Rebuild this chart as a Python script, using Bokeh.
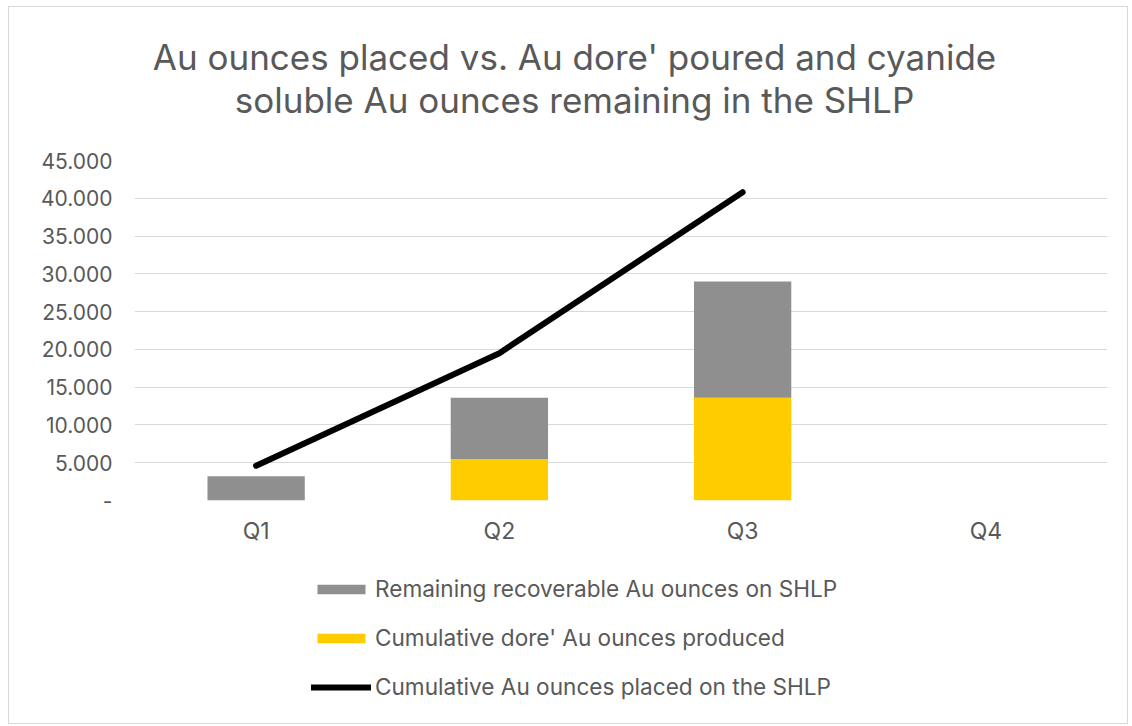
from bokeh.plotting import figure
from bokeh.layouts import column
from bokeh.models import (ColumnDataSource, FactorRange, Range1d, Legend, LegendItem,
                          Label, CustomJSTickFormatter, SingleIntervalTicker)
from bokeh.embed import file_html
from bokeh.resources import INLINE

quarters = ["Q1", "Q2", "Q3", "Q4"]
dore_produced = [0, 5500, 13600, 0]
remaining = [3200, 8100, 15400, 0]
placed_quarters = ["Q1", "Q2", "Q3"]
placed = [4600, 19500, 40800]

title_line1 = "Au ounces placed vs. Au dore' poured and cyanide"
title_line2 = "soluble Au ounces remaining in the SHLP"
label_remaining = "Remaining recoverable Au ounces on SHLP"
label_dore = "Cumulative dore' Au ounces produced"
label_placed = "Cumulative Au ounces placed on the SHLP"

TEXT = "#595959"
GREY = "#8f8f8f"
YELLOW = "#ffcc00"
FONT = "Inter"
W = 1118
BL = 125          # left border (frame start)
FW = 973          # frame width
BR = W - BL - FW  # right border

# ---- title strip ----
TH = 140
pt = figure(width=W, height=TH, x_range=Range1d(BL, BL + FW), y_range=Range1d(0, TH),
            output_backend="svg", toolbar_location=None,
            min_border_left=BL, min_border_right=BR, min_border_top=0, min_border_bottom=0,
            x_axis_location=None, y_axis_location=None)
pt.grid.visible = False
pt.outline_line_color = None
for txt, yy in ((title_line1, TH - 49), (title_line2, TH - 92)):
    pt.add_layout(Label(x=565, y=yy, text=txt, text_align="center",
                        text_baseline="middle", text_font_size="35px",
                        text_font=FONT, text_color=TEXT))

# ---- main chart ----
src = ColumnDataSource(dict(q=quarters, dore=dore_produced, rem=remaining))
line_src = ColumnDataSource(dict(q=placed_quarters, v=placed))

p = figure(x_range=FactorRange(*quarters), y_range=Range1d(0, 45000),
           frame_width=FW, frame_height=340, output_backend="svg", toolbar_location=None,
           min_border_left=BL, min_border_right=BR, min_border_top=13,
           min_border_bottom=60)

rs = p.vbar_stack(["dore", "rem"], x="q", width=0.4, source=src,
                  color=[YELLOW, GREY], line_color=None)
ln = p.line(x="q", y="v", source=line_src, line_color="black", line_width=6,
            line_cap="round", line_join="round")

p.yaxis.ticker = SingleIntervalTicker(interval=5000)
p.yaxis.formatter = CustomJSTickFormatter(code="""
if (tick == 0) { return '-'; }
return Math.round(tick).toString().replace(/\\B(?=(\\d{3})+(?!\\d))/g, '.');
""")
for ax in (p.xaxis, p.yaxis):
    ax.axis_line_color = None
    ax.major_tick_line_color = None
    ax.minor_tick_line_color = None
    ax.major_label_text_font = FONT
    ax.major_label_text_color = TEXT
p.yaxis.major_label_text_font_size = "21px"
p.xaxis.major_label_text_font_size = "23px"
p.yaxis.major_label_standoff = 16
p.xaxis.major_label_standoff = 10

p.xgrid.grid_line_color = None
p.ygrid.grid_line_color = "#d9d9d9"
p.ygrid.grid_line_width = 1
p.outline_line_color = None

# ---- legend strip ----
LH = 163
pl = figure(width=W, height=LH, x_range=Range1d(0, 1), y_range=Range1d(0, 1),
            output_backend="svg", toolbar_location=None,
            min_border_left=BL, min_border_right=BR, min_border_top=0, min_border_bottom=0,
            x_axis_location=None, y_axis_location=None)
pl.grid.visible = False
pl.outline_line_color = None
r_rem = pl.vbar(x=[-5], top=[-5], width=0.1, color=GREY, line_color=None)
r_dore = pl.vbar(x=[-5], top=[-5], width=0.1, color=YELLOW, line_color=None)
r_line = pl.line(x=[-5, -4], y=[-5, -4], line_color="black", line_width=6, line_cap="round")

legend = Legend(items=[LegendItem(label=label_remaining, renderers=[r_rem]),
                       LegendItem(label=label_dore, renderers=[r_dore]),
                       LegendItem(label=label_placed, renderers=[r_line])],
                orientation="vertical", location=(177, 23),
                label_text_font=FONT, label_text_font_size="22.6px",
                label_text_color=TEXT, glyph_width=60, glyph_height=12,
                label_height=27, spacing=22, label_standoff=4, padding=10,
                border_line_color=None, background_fill_alpha=0, margin=0)
pl.add_layout(legend, "center")

layout = column(pt, p, pl, spacing=0, margin=(6, 0, 0, 8),
                styles={"border": "1px solid #d9d9d9"})

open("out.html", "w").write(file_html(layout, INLINE))
